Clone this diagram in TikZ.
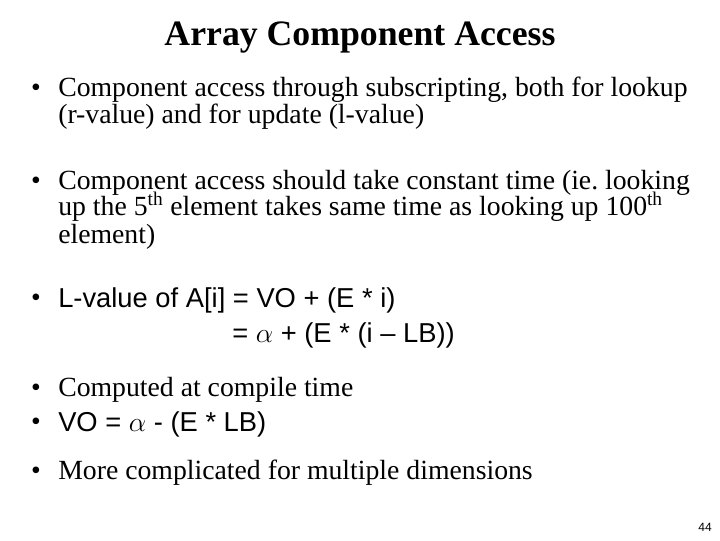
\documentclass[tikz,border=0pt]{standalone}
\usepackage{fontspec}
\setmainfont{Liberation Serif}
\newfontfamily\arial{Liberation Sans}
\begin{document}
\begin{tikzpicture}[x=0.75pt,y=-0.75pt,
  ln/.style={anchor=west,inner sep=0pt,font=\fontsize{20.8}{24}\selectfont},
  sn/.style={anchor=west,inner sep=0pt,font=\arial\fontsize{20.5}{24}\selectfont},
  bul/.style={anchor=center,inner sep=0pt,font=\fontsize{20.8}{24}\selectfont}]
\useasboundingbox[fill=white] (0,0) rectangle (720,540);
\node[inner sep=0pt,font=\bfseries\fontsize{26.8}{30}\selectfont] (title) at (360,38) {Array Component Access};
\node[bul] (b1) at (36,90) {•};
\node[ln] (t1a) at (58,90) {Component access through subscripting, both for lookup};
\node[ln] (t1b) at (58,117) {(r-value) and for update (l-value)};
\node[bul] (b2) at (36,183) {•};
\node[ln] (t2a) at (58,183) {Component access should take constant time (ie.\ looking};
\node[ln] (t2b) at (58,209) {up the 5\smash{\textsuperscript{th}} element takes same time as looking up 100\smash{\textsuperscript{th}}};
\node[ln] (t2c) at (58,237) {element)};
\node[bul] (b3) at (36,300) {•};
\node[sn] (t3a) at (58,300) {L-value of A[i] = VO + (E * i)};
\node[sn] (t3b) at (232,335) {= $\alpha$ + (E * (i – LB))};
\node[bul] (b4) at (36,390) {•};
\node[ln] (t4) at (58,390) {Computed at compile time};
\node[bul] (b5) at (36,424) {•};
\node[sn] (t5) at (58,424) {VO = $\alpha$ - (E * LB)};
\node[bul] (b6) at (36,473) {•};
\node[ln] (t6) at (58,473) {More complicated for multiple dimensions};
\node[inner sep=0pt,font=\arial\fontsize{9}{10}\selectfont] (pg) at (705,527) {44};
\end{tikzpicture}
\end{document}
